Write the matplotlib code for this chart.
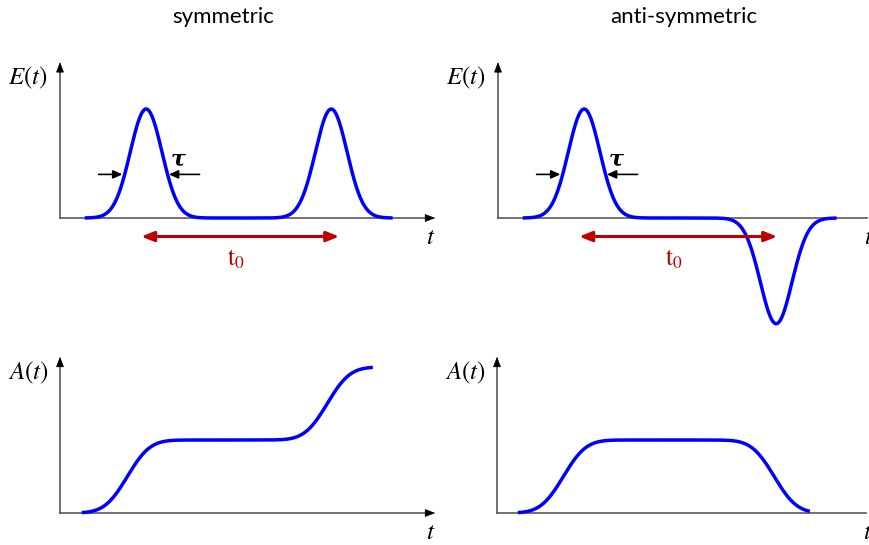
import math
import matplotlib
matplotlib.use('Agg')
import matplotlib.pyplot as plt
import numpy as np

plt.rcParams['mathtext.fontset'] = 'stix'

W, H, DPI = 870, 545, 100

# time in units where the pulse separation t0 = 10
SIGMA_E = 0.8
SIGMA_A = 0.9

E_SYM_CENTRES = [4.35, 13.7]
E_SYM_AMPS = [1.0, 1.0]
E_SYM_SPAN = [1.25, 16.8]

E_ANTI_CENTRES = [4.35, 14.05]
E_ANTI_AMPS = [1.0, -0.97]
E_ANTI_SPAN = [1.25, 17.1]

A_SYM_CENTRES = [3.4, 13.5]
A_SYM_STEPS = [1.0, 1.0]
A_SYM_SPAN = [1.1, 15.8]

A_ANTI_CENTRES = [3.35, 14.0]
A_ANTI_STEPS = [1.0, -1.0]
A_ANTI_SPAN = [1.05, 15.8]

TAU_LEFT = [-2.4, -1.2]      # tail, tip relative to first pulse
TAU_RIGHT = [2.7, 1.15]
T0_ARROW = [4.1, 14.1]

TITLES = ['symmetric', 'anti-symmetric']

BLUE = '#0000ff'
RED = '#c00000'
AXIS_GREY = '#5a5a5a'


def gauss_train(t, centres, amps, sigma):
    return sum(a * np.exp(-(t - c) ** 2 / (2 * sigma ** 2)) for c, a in zip(centres, amps))


def step_train(t, centres, steps, sigma):
    erf = np.vectorize(math.erf)
    return sum(s * 0.5 * (1 + erf((t - c) / (sigma * math.sqrt(2)))) for c, s in zip(centres, steps))


fig = plt.figure(figsize=(W / DPI, H / DPI), dpi=DPI)


def panel(ox, oy, sx, sy):
    # transparent full-figure axes with origin at pixel (ox, oy)
    ax = fig.add_axes([0, 0, 1, 1])
    ax.set_xlim(-ox / sx, (W - ox) / sx)
    ax.set_ylim((oy - H) / sy, oy / sy)
    ax.axis('off')
    ax.patch.set_alpha(0)
    return ax


def draw_axes(ax, xend, ytop, ylab, tlab_y):
    ax.plot([0, 0], [0, ytop - 0.05], color=AXIS_GREY, lw=1.2)
    ax.plot([0, xend - 0.3], [0, 0], color=AXIS_GREY, lw=1.2)
    head = '-|>,head_length=0.65,head_width=0.25'
    ax.annotate('', xy=(0, ytop), xytext=(0, ytop - 0.1),
                arrowprops=dict(arrowstyle=head, color='black', lw=0.5, shrinkA=0, shrinkB=0))
    ax.annotate('', xy=(xend, 0), xytext=(xend - 0.4, 0),
                arrowprops=dict(arrowstyle=head, color='black', lw=0.5, shrinkA=0, shrinkB=0))
    ax.text(-1.6, ylab[1], ylab[0], fontsize=18, ha='center', va='center')
    ax.text(18.74, tlab_y, r'$t$', fontsize=18, ha='center', va='center')


def draw_pulses(ax, centres, amps, span):
    t = np.linspace(span[0], span[1], 800)
    ax.plot(t, gauss_train(t, centres, amps, SIGMA_E), color=BLUE, lw=2.5, solid_capstyle='butt')
    c0 = centres[0]
    yk = 0.40
    small = dict(arrowstyle='-|>,head_length=0.55,head_width=0.25', color='black', lw=1.2,
                 shrinkA=0, shrinkB=0)
    ax.annotate('', xy=(c0 + TAU_LEFT[1], yk), xytext=(c0 + TAU_LEFT[0], yk), arrowprops=small)
    ax.annotate('', xy=(c0 + TAU_RIGHT[1], yk), xytext=(c0 + TAU_RIGHT[0], yk), arrowprops=small)
    ax.text(c0 + 1.6, 0.54, 'τ', family='DejaVu Serif', fontweight='bold', style='italic',
            fontsize=16, ha='center', va='center')
    ax.annotate('', xy=(T0_ARROW[1], -0.17), xytext=(T0_ARROW[0], -0.17),
                arrowprops=dict(arrowstyle='<|-|>,head_length=0.75,head_width=0.3', color=RED, lw=2.2,
                                shrinkA=0, shrinkB=0))
    ax.text(sum(T0_ARROW) / 2 - 0.2, -0.38, r'$\mathrm{t}_0$', color=RED, fontsize=18,
            ha='center', va='center')


def draw_area(ax, centres, steps, span):
    t = np.linspace(span[0], span[1], 800)
    ax.plot(t, step_train(t, centres, steps, SIGMA_A), color=BLUE, lw=2.5, solid_capstyle='butt')


SX = 19.8
# top row: E(t)
ax1 = panel(60, 218, SX, 109)
draw_axes(ax1, 18.95, 1.43, (r'$E(t)$', 1.29), -0.17)
draw_pulses(ax1, E_SYM_CENTRES, E_SYM_AMPS, E_SYM_SPAN)

ax2 = panel(498, 218, SX, 109)
draw_axes(ax2, 18.95, 1.43, (r'$E(t)$', 1.29), -0.17)
draw_pulses(ax2, E_ANTI_CENTRES, E_ANTI_AMPS, E_ANTI_SPAN)

# bottom row: A(t)
ax3 = panel(60, 513, SX, 73)
draw_axes(ax3, 18.95, 2.14, (r'$A(t)$', 1.92), -0.26)
draw_area(ax3, A_SYM_CENTRES, A_SYM_STEPS, A_SYM_SPAN)

ax4 = panel(497, 513, SX, 73)
draw_axes(ax4, 18.95, 2.14, (r'$A(t)$', 1.92), -0.26)
draw_area(ax4, A_ANTI_CENTRES, A_ANTI_STEPS, A_ANTI_SPAN)

for xc, title in zip([223, 684], TITLES):
    fig.text(xc / W, 1 - 23 / H, title, family='Lato', fontsize=16, ha='center', va='baseline')

fig.savefig('out.png', dpi=DPI)
